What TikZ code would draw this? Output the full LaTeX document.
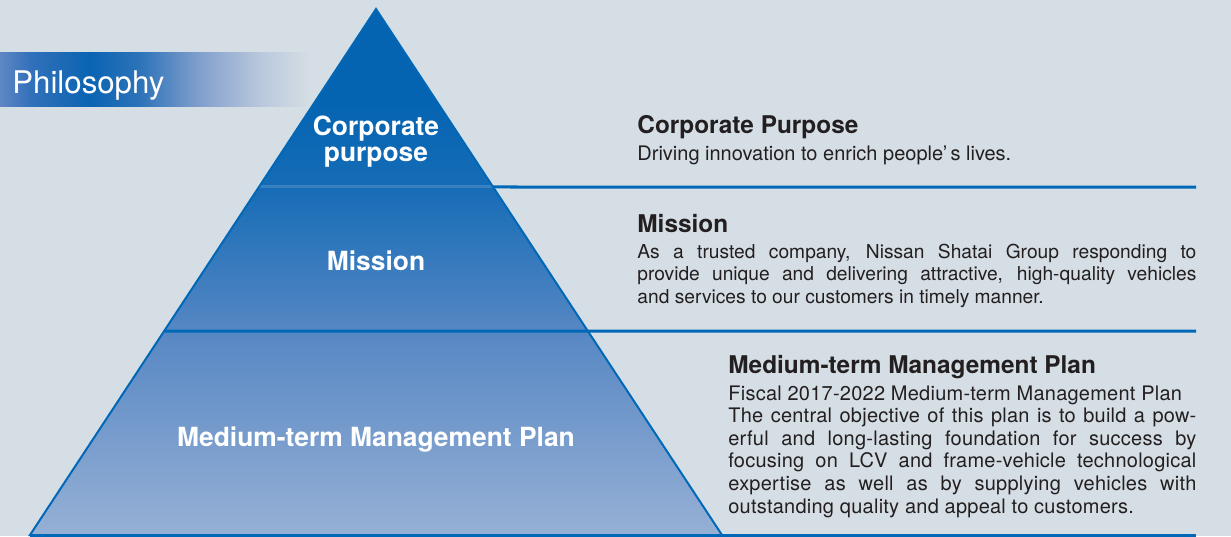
\documentclass[tikz,border=0pt]{standalone}
\usepackage{fontspec}
\setmainfont{TeX Gyre Heros}
\newfontfamily\trackfont[LetterSpace=1.2]{TeX Gyre Heros}
\usepackage{tikz}
\usetikzlibrary{positioning, calc}

\definecolor{bgcol}{RGB}{213,222,228}
\definecolor{linecol}{RGB}{0,104,183}
\definecolor{txtcol}{RGB}{35,31,32}
% pyramid colours
\definecolor{pyrtop}{RGB}{5,100,178}
\definecolor{pyrmidA}{RGB}{22,108,182}
\definecolor{pyrmidB}{RGB}{88,136,196}
\definecolor{pyrbot}{RGB}{150,176,213}
% banner colours
\definecolor{banA}{RGB}{95,135,195}
\definecolor{banB}{RGB}{50,112,186}
\definecolor{banC}{RGB}{10,100,178}
\definecolor{banD}{RGB}{45,115,185}
\definecolor{banE}{RGB}{130,160,205}
\definecolor{banF}{RGB}{185,200,220}

\pgfdeclareverticalshading{pyrshade}{100bp}{color(0bp)=(pyrbot); color(25bp)=(pyrbot); color(44bp)=(pyrmidB); color(58bp)=(pyrmidA); color(66bp)=(pyrtop); color(100bp)=(pyrtop)}
\pgfdeclarehorizontalshading{banshade}{100bp}{color(0bp)=(banA); color(25bp)=(banA); color(30bp)=(banB); color(39.5bp)=(banC); color(47.6bp)=(banD); color(57.3bp)=(banE); color(67bp)=(banF); color(75bp)=(bgcol); color(100bp)=(bgcol)}

\begin{document}
\begin{tikzpicture}[x=0.5pt, y=-0.5pt,
    sep/.style={draw=linecol, line width=1.5pt},
    pyrlabel/.style={text=white, font=\fontsize{13.2}{13}\selectfont\bfseries, align=center, inner sep=0pt},
    head/.style={text=txtcol, font=\fontsize{12.2}{14}\selectfont\bfseries, anchor=base west, inner sep=0pt},
    body/.style={text=txtcol, font=\fontsize{10}{11.3}\selectfont, anchor=base west, inner sep=0pt, align=justify}]
        % Background
        \fill[bgcol] (0,0) rectangle (1231,536);
        \useasboundingbox (0,0) rectangle (1231,536);

        % Banner
        \shade[shading=banshade] (0,52) rectangle (310,106);
        \node (philo) [anchor=base west, text=white, font=\fontsize{15.6}{18}\selectfont, inner sep=0pt] at (12,93) {Philosophy};

        % Pyramid
        \coordinate (apex) at (376,9);
        \coordinate (bl) at (30,535);
        \coordinate (br) at (722,535);
        \coordinate (l1) at ($(apex)!0.3384!(bl)$);
        \coordinate (m1) at ($(apex)!0.3384!(br)$);
        \coordinate (l2) at ($(apex)!0.6122!(bl)$);
        \coordinate (e1) at (1196,187);
        \coordinate (e2) at (1196,331);
        \coordinate (e3) at (1196,535);
        \shade[shading=pyrshade] (apex) -- (bl) -- (br) -- cycle;
        \draw[white, opacity=0.15, line width=1.5pt] (l1) -- (m1);
        \draw[linecol, line width=1pt] (apex) -- (bl) -- (br) -- cycle;

        % Lines
        \draw[sep] (m1) -- (e1);
        \draw[sep] (l2) -- (e2);
        \draw[sep] (bl) -- (e3);

        % Pyramid labels
        \node (cplabel) [pyrlabel] at (376,142) {Corporate\\purpose};
        \node (mislabel) [pyrlabel, anchor=base] at (376,270) {Mission};
        \node (mtplabel) [pyrlabel, anchor=base] at (376,446) {Medium-term Management Plan};

        % Texts
        \node (cphead) [head] at (637,133) {Corporate Purpose};
        \node (cptext) [body] at (637,160) {Driving innovation to enrich people’\,s lives.};
        \node (mishead) [head] at (637,232) {Mission};
        \node (mistext) [body, text width=279.5pt, font=\fontsize{9.6}{11.3}\selectfont] at (637,258) {As a trusted company, Nissan Shatai Group responding to\linebreak provide unique and delivering attractive, high-quality vehicles\linebreak and services to our customers in timely manner.};
        \node (mtphead) [head] at (728,373) {Medium-term Management Plan};
        \node (mtptext) [body, text width=234pt, font=\fontsize{10}{11.3}\trackfont] at (728,400) {Fiscal 2017-2022 Medium-term Management Plan\\The central objective of this plan is to build a pow-\linebreak erful and long-lasting foundation for success by\linebreak focusing on LCV and frame-vehicle technological\linebreak expertise as well as by supplying vehicles with\linebreak outstanding quality and appeal to customers.};
    \end{tikzpicture}
\end{document}
